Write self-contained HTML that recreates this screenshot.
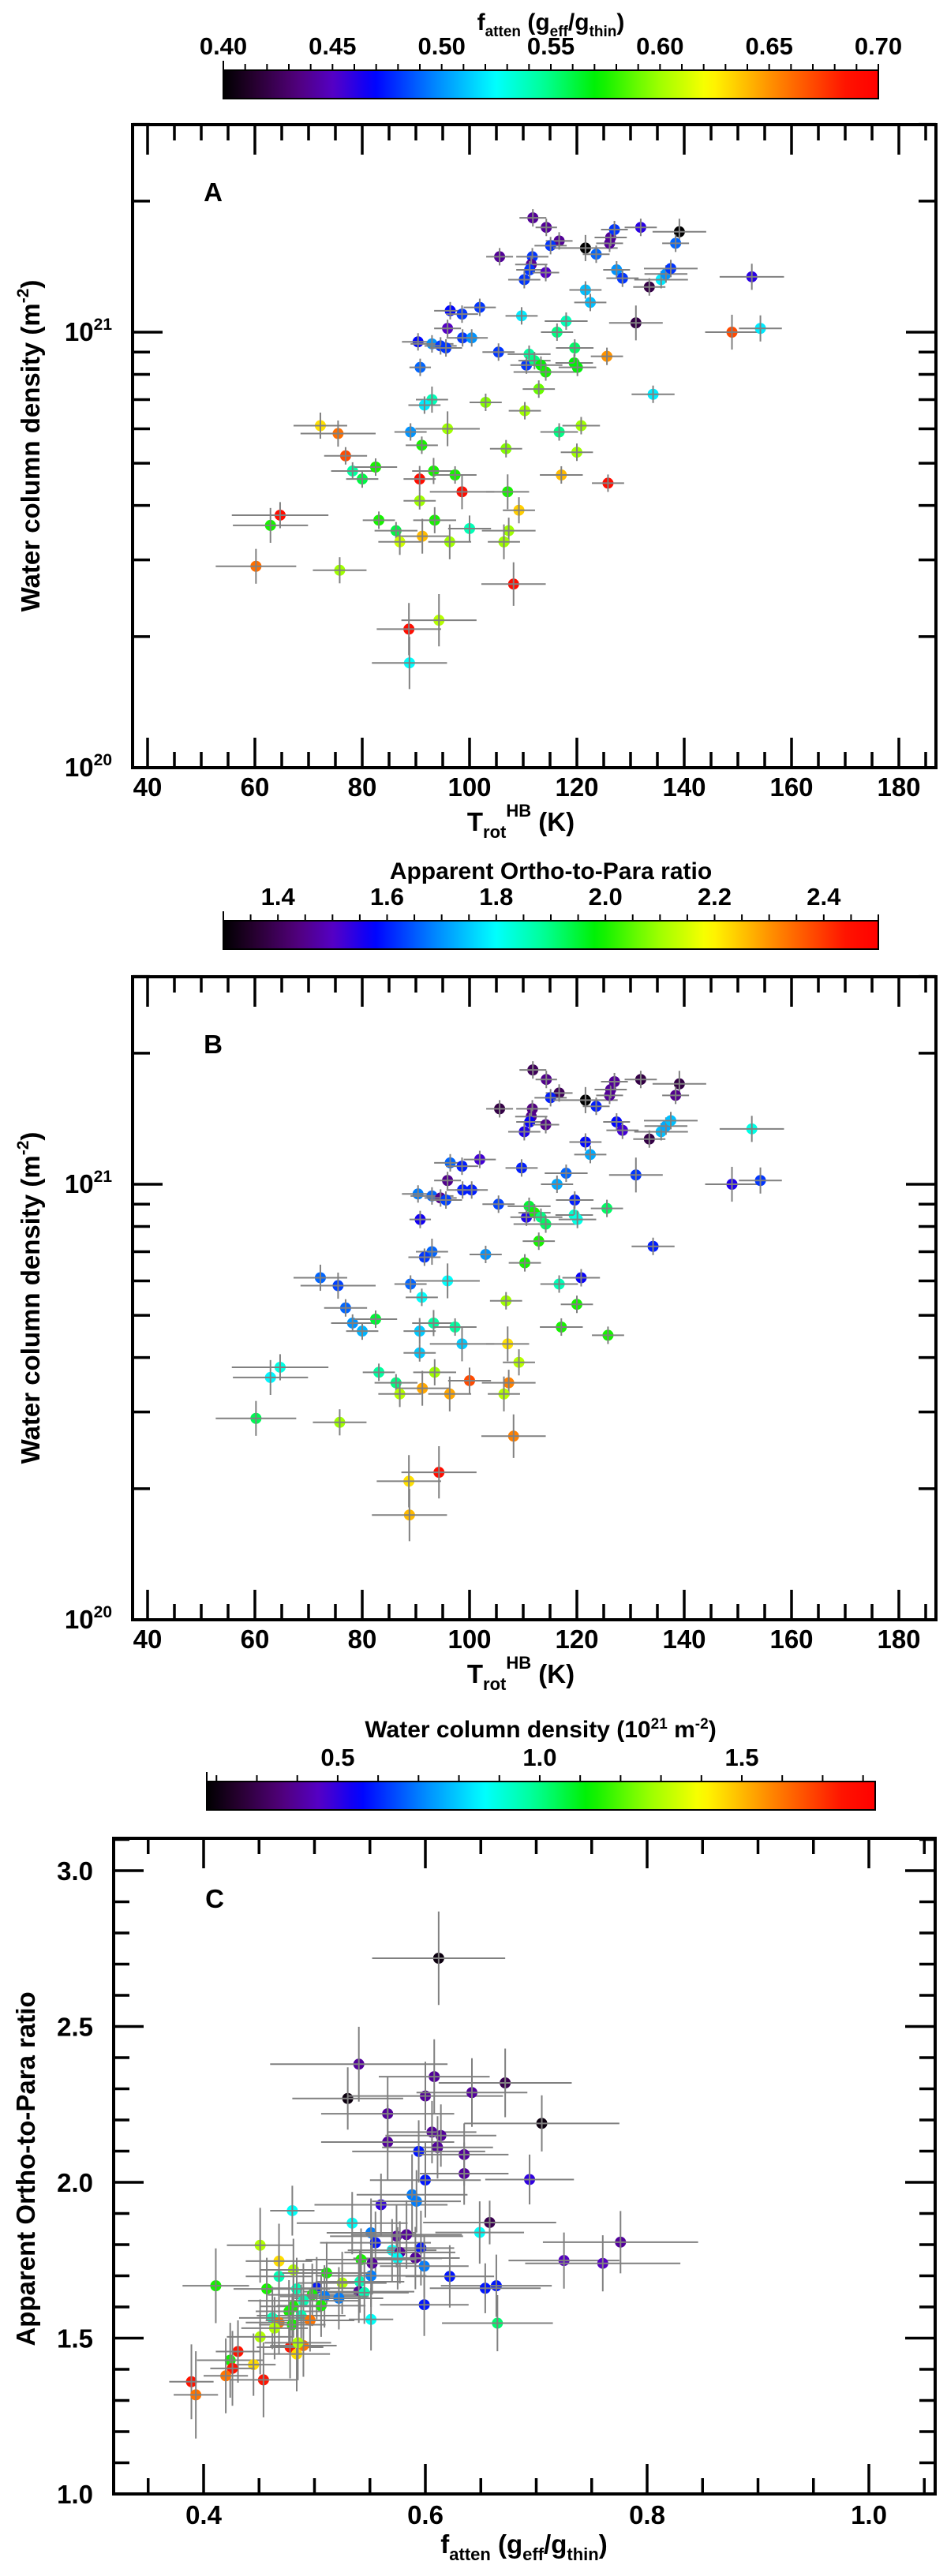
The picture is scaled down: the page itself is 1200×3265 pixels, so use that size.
<!DOCTYPE html>
<html><head><meta charset="utf-8"><style>
html,body{margin:0;padding:0;background:#fff}
svg{display:block;font-family:"Liberation Sans",Arial,sans-serif;font-weight:bold}
</style></head><body>
<svg id="fig" width="1200" height="3265" viewBox="0 0 1200 3265" xmlns="http://www.w3.org/2000/svg">
<defs>
<linearGradient id="cmap" x1="0" x2="1" y1="0" y2="0"></linearGradient>
</defs>
<g><text x="698" y="38" font-size="30" text-anchor="middle">f<tspan font-size="19" dy="8">atten</tspan><tspan dy="-8"> (g</tspan><tspan font-size="19" dy="8">eff</tspan><tspan dy="-8">/g</tspan><tspan font-size="19" dy="8">thin</tspan><tspan dy="-8">)</tspan></text></g>
<g><text x="698" y="1114" font-size="30" text-anchor="middle">Apparent Ortho-to-Para ratio</text></g>
<g><text x="685" y="2202" font-size="30" text-anchor="middle">Water column density (10<tspan font-size="19" dy="-11">21</tspan><tspan dy="11"> m</tspan><tspan font-size="19" dy="-11">-2</tspan><tspan dy="11">)</tspan></text></g>
<g id="layer"></g>
</svg>
<script>
// ---------- Panels A & B data ----------
const T = [111.8,114.3,116.7,115.1,121.6,123.6,126.1,126.3,127.0,131.9,139.1,138.4,105.6,111.7,111.5,111.2,114.2,110.2,127.4,128.5,133.5,135.7,136.6,137.5,152.6,121.6,122.5,96.4,98.6,101.9,109.7,95.9,98.7,100.4,118.0,116.3,131.0,148.9,154.2,90.4,93.0,94.6,95.6,105.4,119.6,111.1,110.6,112.1,113.3,114.2,119.5,120.1,125.6,90.8,112.9,134.2,93.0,91.6,103.0,110.3,72.2,75.5,89.0,95.9,116.7,120.8,91.1,106.8,120.0,76.9,78.2,80.0,82.5,93.3,97.3,90.7,117.1,125.8,98.6,107.1,90.7,109.2,64.7,62.9,83.1,93.5,86.3,100.0,107.3,91.2,96.3,87.0,106.4,60.2,75.8,108.2,94.3,88.7,88.8];
const N = [1.83,1.74,1.62,1.58,1.56,1.51,1.60,1.65,1.72,1.74,1.70,1.60,1.49,1.49,1.43,1.39,1.37,1.32,1.39,1.33,1.27,1.32,1.36,1.40,1.34,1.25,1.17,1.12,1.10,1.14,1.09,1.02,0.97,0.97,1.06,1.00,1.05,1.00,1.02,0.95,0.94,0.93,0.92,0.90,0.92,0.89,0.84,0.86,0.84,0.81,0.85,0.83,0.88,0.83,0.74,0.72,0.70,0.68,0.69,0.66,0.61,0.585,0.59,0.60,0.59,0.61,0.55,0.54,0.53,0.52,0.48,0.46,0.49,0.48,0.47,0.46,0.47,0.45,0.43,0.43,0.41,0.39,0.38,0.36,0.37,0.37,0.35,0.354,0.35,0.34,0.33,0.33,0.33,0.29,0.284,0.264,0.218,0.208,0.174];
const fA = [.44,.44,.44,.48,.40,.49,.44,.44,.48,.46,.40,.49,.44,.48,.44,.48,.45,.48,.50,.48,.42,.52,.50,.48,.46,.51,.51,.47,.48,.48,.52,.45,.48,.50,.54,.55,.42,.67,.52,.47,.50,.48,.48,.48,.555,.545,.48,.55,.57,.575,.57,.57,.65,.49,.59,.52,.54,.52,.595,.60,.63,.66,.50,.60,.55,.60,.575,.595,.60,.67,.545,.56,.575,.575,.575,.69,.64,.69,.69,.575,.60,.635,.69,.575,.575,.575,.56,.54,.60,.64,.60,.61,.60,.66,.60,.69,.605,.69,.525];
const oprB = [1.40,1.45,1.40,1.60,1.30,1.60,1.46,1.46,1.46,1.38,1.38,1.45,1.38,1.44,1.45,1.57,1.45,1.55,1.58,1.52,1.38,1.74,1.72,1.74,1.82,1.58,1.72,1.66,1.60,1.52,1.60,1.45,1.60,1.60,1.66,1.72,1.62,1.55,1.62,1.68,1.66,1.45,1.63,1.63,1.60,1.95,1.55,2.0,1.90,1.92,1.84,1.82,1.92,1.56,2.0,1.60,1.66,1.62,1.70,2.0,1.66,1.63,1.66,1.80,1.86,1.57,1.80,2.1,2.0,1.66,1.70,1.73,1.95,1.88,1.88,1.75,2.0,2.0,1.75,2.22,1.75,2.12,1.82,1.79,1.88,2.1,1.9,2.38,2.32,2.28,2.28,2.12,2.12,1.93,2.1,2.32,2.46,2.22,2.26];
const Terr = [2.5,2,2.5,3,6,2.5,2.5,3,2.5,3,5,2.5,2.5,3,3,2.5,2.5,3,2.5,3,3,5,4,5,6,3,3,3,3,3,3,2.5,3,3,4,3,5,5,4,3,4,3,3,3,3.5,4,3,3,4,6,3.5,3.5,3,2,3,4,3,3,3,3,5,7,3,6,3.5,3.5,3,3,3,4,4,3,4,4,4,3,4,3,6,4,3,3,9,7,3,4,4,4,5,5,4,4,3,7.5,5,6,7,6,7];
const Nerr = [.02,.02,.02,.02,.03,.02,.02,.02,.02,.02,.03,.02,.02,.02,.02,.02,.02,.02,.02,.02,.02,.02,.02,.02,.03,.02,.02,.02,.02,.02,.02,.02,.02,.02,.02,.02,.04,.04,.03,.02,.02,.02,.02,.02,.02,.02,.02,.02,.02,.02,.02,.02,.02,.02,.02,.02,.03,.02,.02,.02,.03,.03,.02,.04,.02,.02,.02,.02,.02,.02,.02,.02,.02,.03,.02,.03,.02,.02,.04,.04,.02,.03,.03,.04,.02,.03,.02,.03,.03,.04,.04,.03,.04,.04,.03,.05,.06,.06,.06];
// ---------- Panel C data ----------
const fC = [.612,.540,.530,.608,.600,.642,.672,.566,.705,.606,.614,.566,.611,.594,.635,.635,.600,.694,.560,.588,.592,.480,.534,.658,.551,.649,.574,.583,.555,.776,.451,.570,.596,.577,.591,.575,.468,.725,.760,.542,.552,.599,.481,.551,.622,.468,.511,.525,.541,.411,.664,.654,.457,.502,.484,.540,.545,.498,.509,.522,.490,.599,.506,.481,.477,.488,.462,.551,.665,.468,.496,.480,.451,.464,.478,.490,.484,.431,.424,.445,.426,.420,.454,.389,.393,.485];
const oprC = [2.719,2.379,2.269,2.339,2.277,2.288,2.319,2.220,2.189,2.161,2.150,2.129,2.112,2.099,2.089,2.028,2.007,2.009,1.928,1.960,1.939,1.909,1.869,1.871,1.838,1.839,1.827,1.832,1.806,1.808,1.798,1.782,1.789,1.775,1.757,1.756,1.747,1.749,1.740,1.752,1.740,1.731,1.719,1.700,1.698,1.698,1.709,1.677,1.681,1.668,1.668,1.660,1.658,1.660,1.658,1.649,1.646,1.639,1.634,1.628,1.620,1.607,1.604,1.602,1.586,1.572,1.565,1.560,1.548,1.550,1.557,1.543,1.504,1.532,1.471,1.476,1.449,1.457,1.429,1.415,1.403,1.379,1.366,1.360,1.318,1.485];
const nC = [.2,.4,.2,.4,.4,.4,.3,.4,.2,.4,.4,.4,.4,.58,.4,.4,.58,.5,.5,.7,.7,.87,.87,.3,.7,.87,.4,.4,.58,.4,1.3,.87,.58,.4,.4,.87,1.45,.45,.45,1.14,.4,.7,1.3,.7,.58,.95,1.14,1.3,.95,1.14,.58,.58,1.14,.58,.95,.4,.95,1.14,.7,.7,.95,.58,1.14,1.14,1.14,.95,.95,.87,1.02,1.6,1.6,1.14,1.3,1.3,1.75,1.6,1.45,1.75,1.14,1.45,1.75,1.6,1.75,1.75,1.6,1.3];
const fCerr = [.06,.08,.05,.05,.07,.05,.06,.06,.07,.04,.05,.06,.05,.06,.04,.04,.05,.04,.06,.05,.04,.02,.05,.06,.04,.04,.06,.05,.05,.07,.03,.04,.03,.05,.04,.04,.03,.05,.07,.05,.04,.04,.03,.05,.04,.03,.04,.04,.04,.03,.05,.05,.03,.04,.03,.05,.04,.04,.04,.04,.05,.04,.04,.03,.03,.04,.03,.02,.05,.03,.04,.03,.03,.03,.03,.03,.03,.02,.03,.02,.02,.02,.03,.02,.02,.03];
const oprCerr = [.15,.12,.10,.12,.11,.11,.11,.12,.09,.10,.10,.12,.10,.10,.10,.10,.12,.08,.10,.13,.10,.08,.10,.07,.11,.10,.10,.11,.10,.10,.12,.10,.12,.10,.10,.10,.12,.09,.09,.10,.10,.10,.10,.10,.10,.10,.10,.10,.10,.12,.10,.08,.10,.10,.10,.10,.10,.10,.10,.10,.12,.10,.10,.10,.10,.10,.10,.10,.09,.10,.10,.10,.12,.10,.10,.10,.12,.10,.12,.10,.12,.12,.12,.12,.14,.12];

const cmStops = [[0,[0,0,0]],[0.05,[40,0,50]],[0.11,[80,0,120]],[0.17,[85,0,200]],[0.23,[0,0,255]],[0.32,[0,130,255]],[0.415,[0,255,255]],[0.49,[0,255,150]],[0.57,[0,240,0]],[0.66,[150,255,0]],[0.74,[255,255,0]],[0.85,[255,128,0]],[0.95,[255,20,0]],[1,[255,0,0]]];
function cmap(t){t=Math.max(0,Math.min(1,t));for(let i=1;i<cmStops.length;i++){if(t<=cmStops[i][0]){const a=cmStops[i-1],b=cmStops[i],u=(t-a[0])/(b[0]-a[0]);const c=a[1].map((v,k)=>Math.round(v+(b[1][k]-v)*u));return `rgb(${c[0]},${c[1]},${c[2]})`;}}return 'rgb(255,0,0)';}
const NS="http://www.w3.org/2000/svg";
const layer=document.getElementById('layer');
const grad=document.getElementById('cmap');
for(let i=0;i<=60;i++){const s=document.createElementNS(NS,'stop');s.setAttribute('offset',i/60);s.setAttribute('stop-color',cmap(i/60));grad.appendChild(s);}
function el(tag,attrs,parent){const e=document.createElementNS(NS,tag);for(const k in attrs)e.setAttribute(k,attrs[k]);(parent||layer).appendChild(e);return e;}
function line(x1,y1,x2,y2,w,c,p){return el('line',{x1,y1,x2,y2,'stroke-width':w,stroke:c||'#000'},p);}
function text(x,y,s,size,anchor,p){const t=el('text',{x,y,'font-size':size,'text-anchor':anchor||'middle'},p);t.textContent=s;return t;}

function colorbar(name,x0,x1,y0,y1,vmin,vmax,labels,fmt,minorStep){
  const g=el('g',{});
  
  
  el('rect',{x:x0,y:y0,width:x1-x0,height:y1-y0,fill:'url(#cmap)',stroke:'#000','stroke-width':2},g);
  const sx=v=>x0+(v-vmin)/(vmax-vmin)*(x1-x0);
  for(let v=Math.ceil(vmin/minorStep-1e-6)*minorStep;v<=vmax+1e-9;v+=minorStep){line(sx(v),y0,sx(v),y0-8,2,'#000',g);}
  line(x0,y0,x0,y0-12,2,'#000',g);
  labels.forEach(v=>{text(sx(v),y0-20,v.toFixed(fmt),31,'middle',g);});
}
colorbar('colorbar-a',283,1113,89,125,0.40,0.70,[0.40,0.45,0.50,0.55,0.60,0.65,0.70],2,0.01);
colorbar('colorbar-b',283,1113,1167,1203,1.30,2.50,[1.4,1.6,1.8,2.0,2.2,2.4],1,0.05);
colorbar('colorbar-c',262,1109,2258,2294,0.176,1.83,[0.5,1.0,1.5],1,0.1);

function frame(g,L,R,Tp,B){el('rect',{x:L,y:Tp,width:R-L,height:B-Tp,fill:'none',stroke:'#000','stroke-width':4},g);}

function panelAB(name,letter,dy,colorVals,vmin,vmax){
  const L=168,R=1186,Tp=158+dy,B=973+dy;
  const sx=t=>187+(t-40)*6.8;
  const sy=n=>(421+dy)-Math.log10(n)*552;
  const g=el('g',{});
  
  
  for(let t=40;t<=185;t+=5){const maj=t%20===0;const len=maj?38:20;line(sx(t),B,sx(t),B-len,3.5,'#000',g);line(sx(t),Tp,sx(t),Tp+len,3.5,'#000',g);if(maj){text(sx(t),B+36,String(t),33,'middle',g);}}
  const yt=[0.1,0.2,0.3,0.4,0.5,0.6,0.7,0.8,0.9,1,2,3];
  yt.forEach(v=>{const maj=(v===0.1||v===1);const len=maj?38:22;line(L,sy(v),L+len,sy(v),3.5,'#000',g);line(R,sy(v),R-len,sy(v),3.5,'#000',g);});
  const l1=el('text',{x:142,y:sy(1)+11,'font-size':33,'text-anchor':'end'},g);l1.innerHTML='10<tspan font-size="21" dy="-14">21</tspan>';
  const l2=el('text',{x:142,y:sy(0.1)+11,'font-size':33,'text-anchor':'end'},g);l2.innerHTML='10<tspan font-size="21" dy="-14">20</tspan>';
  const yl=el('text',{x:0,y:0,'font-size':33,'text-anchor':'middle',transform:`translate(50,${565+dy}) rotate(-90)`},g);yl.innerHTML='Water column density (m<tspan font-size="21" dy="-14">-2</tspan><tspan dy="14">)</tspan>';
  const xl=el('text',{x:660,y:1053+dy,'font-size':33,'text-anchor':'middle'},g);xl.innerHTML='T<tspan font-size="22" dy="9">rot</tspan><tspan font-size="22" dy="-27">HB</tspan><tspan dy="18"> (K)</tspan>';
  text(270,255+dy,letter,33,'middle',g);
  const pts=el('g',{},g);
  
  
  for(let i=0;i<T.length;i++){
    const x=sx(T[i]),y=sy(N[i]);
    const c=el('circle',{cx:x,cy:y,r:7,fill:cmap((colorVals[i]-vmin)/(vmax-vmin))},pts);
    
    
    line(sx(T[i]-Terr[i]),y,sx(T[i]+Terr[i]),y,2,'#808080',pts);
    line(x,sy(N[i]*Math.pow(10,-Nerr[i])),x,sy(N[i]*Math.pow(10,Nerr[i])),2,'#808080',pts);
  }
  frame(g,L,R,Tp,B);
}
panelAB('panel-a','A',0,fA,0.40,0.70);
panelAB('panel-b','B',1080,oprB,1.30,2.50);

(function(){
  const L=144,R=1185,Tp=2330,B=3161;
  const sx=f=>258+(f-0.4)*1405;
  const sy=o=>3161-(o-1.0)*395;
  const g=el('g',{});
  
  
  for(let k=7;k<=21;k++){const f=k*0.05;const maj=(k%4===0);const len=maj?38:20;line(sx(f),B,sx(f),B-len,3.5,'#000',g);line(sx(f),Tp,sx(f),Tp+len,3.5,'#000',g);if(maj)text(sx(f),B+38,f.toFixed(1),33,'middle',g);}
  for(let k=10;k<=31;k++){const o=k/10;const maj=(k%5===0);const len=maj?38:20;line(L,sy(o),L+len,sy(o),3.5,'#000',g);line(R,sy(o),R-len,sy(o),3.5,'#000',g);if(maj)text(118,sy(o)+12,o.toFixed(1),33,'end',g);}
  const yl=el('text',{x:0,y:0,'font-size':33,'text-anchor':'middle',transform:'translate(44,2749) rotate(-90)'},g);yl.textContent='Apparent Ortho-to-Para ratio';
  const xl=el('text',{x:664,y:3236,'font-size':33,'text-anchor':'middle'},g);xl.innerHTML='f<tspan font-size="22" dy="9">atten</tspan><tspan dy="-9"> (g</tspan><tspan font-size="22" dy="9">eff</tspan><tspan dy="-9">/g</tspan><tspan font-size="22" dy="9">thin</tspan><tspan dy="-9">)</tspan>';
  text(272,2418,'C',33,'middle',g);
  const pts=el('g',{},g);
  
  
  for(let i=0;i<fC.length;i++){
    const x=sx(fC[i]),y=sy(oprC[i]);
    const c=el('circle',{cx:x,cy:y,r:7,fill:cmap((nC[i]-0.176)/(1.83-0.176))},pts);
    
    
    line(sx(fC[i]-fCerr[i]),y,sx(fC[i]+fCerr[i]),y,2,'#808080',pts);
    line(x,sy(oprC[i]-oprCerr[i]),x,sy(oprC[i]+oprCerr[i]),2,'#808080',pts);
  }
  frame(g,L,R,Tp,B);
})();
</script>
</body></html>
